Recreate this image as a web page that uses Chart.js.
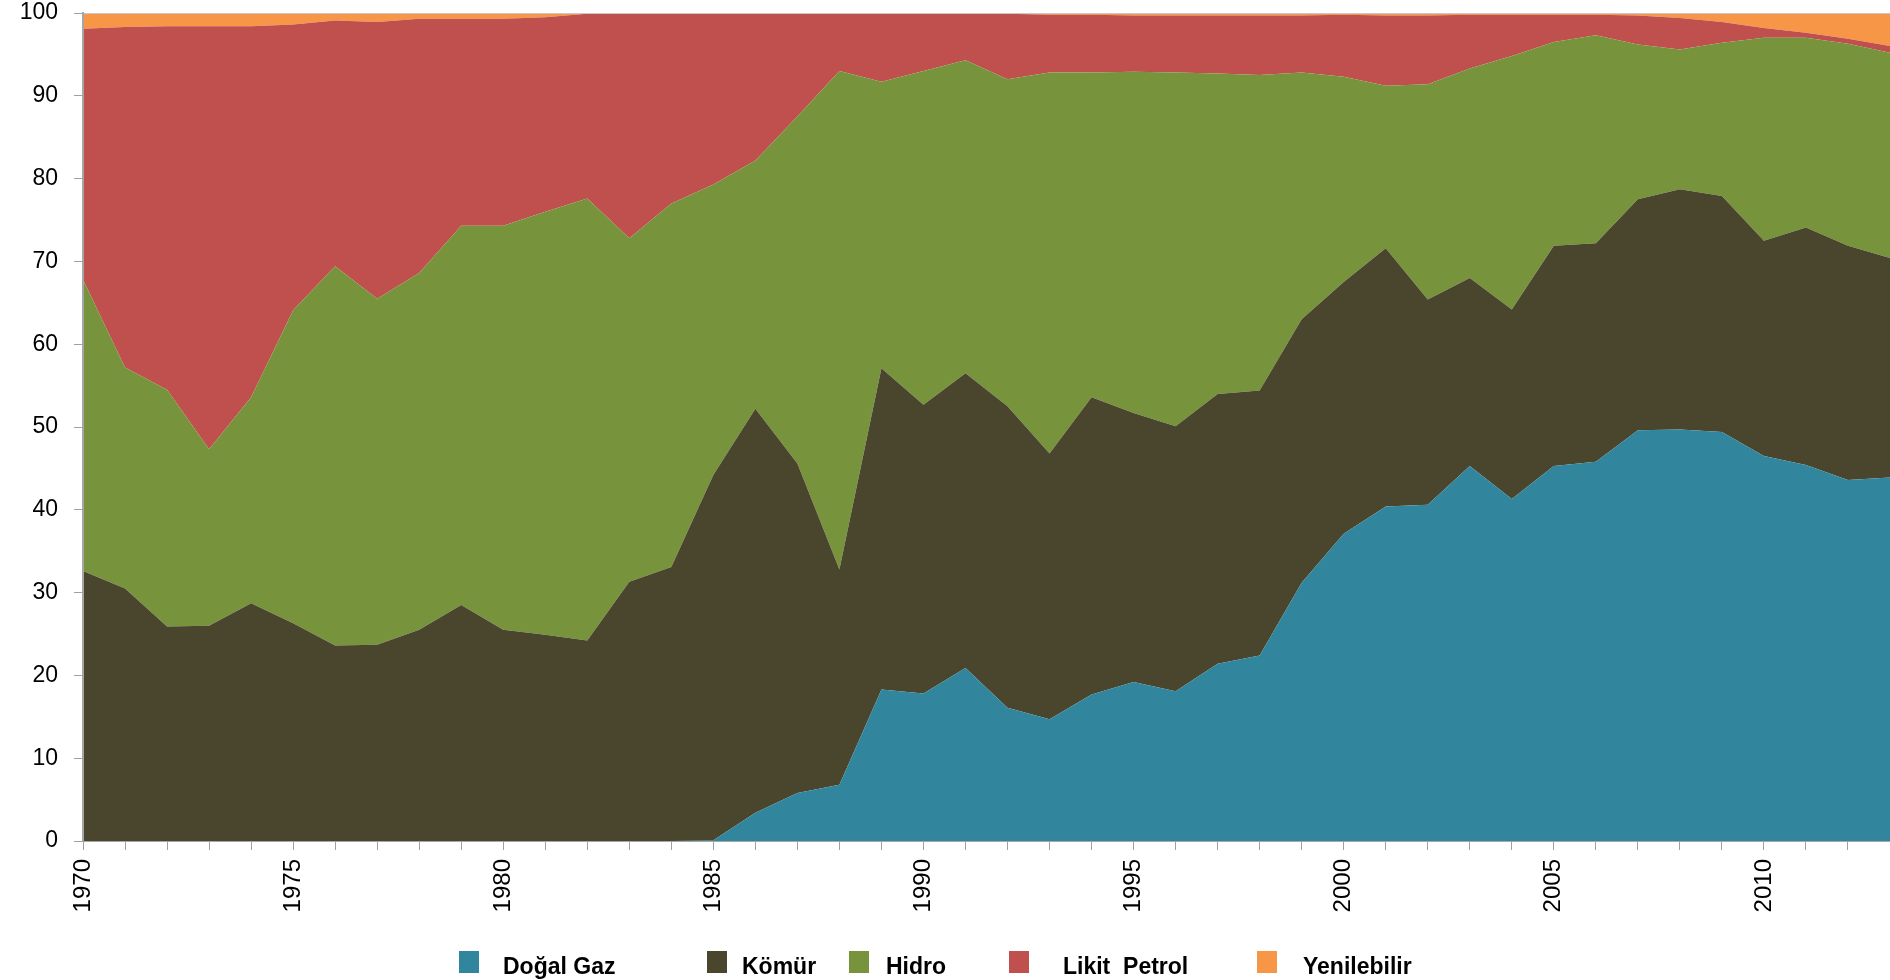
<!DOCTYPE html>
<html>
<head>
<meta charset="utf-8">
<script src="https://cdn.jsdelivr.net/npm/chart.js@4.4.0/dist/chart.umd.min.js"></script>
<style>
  html, body { margin: 0; padding: 0; background: #fff; overflow: hidden; }
  #wrap { position: relative; width: 1890px; height: 980px; overflow: hidden; }
  #myChart { display: block; }
  #legend { position: absolute; left: 0; top: 0; width: 1890px; height: 980px; pointer-events: none; }
  .sw { position: absolute; top: 951px; width: 20px; height: 22px; }
  .lb { position: absolute; top: 953px; font: bold 23px "Liberation Sans", Arial, sans-serif; color: #000; white-space: pre; }
</style>
</head>
<body>
<div id="wrap">
  <canvas id="myChart" width="1890" height="980"></canvas>
  <div id="legend"></div>
</div>
<script>
// yillar
var years = [];
for (var y = 1970; y <= 2013; y++) years.push(String(y));

// pay (%), okunan degerler
var dogalGaz = [0,0,0,0,0,0,0,0,0,0,0,0,0,0,0,
  0.1,3.4,5.8,6.8,18.3,17.8,20.9,16.1,14.7,17.7,19.2,18.1,21.4,22.4,31.2,
  37.1,40.4,40.6,45.3,41.3,45.3,45.8,49.6,49.7,49.4,46.5,45.4,43.6,43.9];
var komur = [32.6,30.5,25.9,26.0,28.7,26.3,23.6,23.7,25.5,28.5,25.5,24.9,24.2,31.3,33.1,
  44.1,48.8,39.8,26.0,38.8,34.9,35.6,36.4,32.1,35.9,32.5,32.0,32.6,32.0,31.8,
  30.4,31.2,24.8,22.7,22.9,26.6,26.4,27.9,29.0,28.5,26.0,28.7,28.3,26.5];
var hidro = [35.2,26.7,28.6,21.3,24.9,37.8,45.8,41.8,43.1,45.8,48.8,51.1,53.4,41.5,43.9,
  35.1,30.0,41.9,60.2,34.6,40.3,37.8,39.5,46.0,39.2,41.2,42.7,38.7,38.1,29.8,
  24.8,19.6,26.0,25.3,30.6,24.6,25.1,18.7,16.9,18.5,24.5,22.9,24.4,24.8];
var likitPetrol = [30.3,41.1,43.9,51.1,44.8,34.5,29.7,33.4,30.7,25.0,25.0,23.5,22.3,27.1,22.9,
  20.6,17.7,12.4,6.9,8.2,6.9,5.6,7.9,7.0,7.0,6.8,6.9,7.0,7.2,6.9,
  7.5,8.5,8.3,6.5,5.0,3.3,2.5,3.5,3.8,2.5,1.2,0.6,0.6,0.8];
var yenilebilir = [1.9,1.7,1.6,1.6,1.6,1.4,0.9,1.1,0.7,0.7,0.7,0.5,0.1,0.1,0.1,
  0.1,0.1,0.1,0.1,0.1,0.1,0.1,0.1,0.2,0.2,0.3,0.3,0.3,0.3,0.3,
  0.2,0.3,0.3,0.2,0.2,0.2,0.2,0.3,0.6,1.1,1.8,2.4,3.1,4.0];

var seriesNames = ['Doğal Gaz', 'Kömür', 'Hidro', 'Likit  Petrol', 'Yenilebilir'];
var seriesColors = ['#31859C', '#4A452D', '#77933C', '#C0504D', '#F79646'];
var allData = [dogalGaz, komur, hidro, likitPetrol, yenilebilir];

var datasets = allData.map(function (d, i) {
  return {
    label: seriesNames[i],
    data: d,
    backgroundColor: seriesColors[i],
    borderColor: seriesColors[i],
    borderWidth: 0,
    pointRadius: 0,
    tension: 0,
    fill: i === 0 ? 'origin' : '-1'
  };
});

// legend (html)
var legendPos = [[459, 503], [707, 742], [849, 886], [1009, 1063], [1257, 1303]];
var lg = document.getElementById('legend');
seriesNames.forEach(function (n, i) {
  var s = document.createElement('div');
  s.className = 'sw';
  s.style.left = legendPos[i][0] + 'px';
  s.style.background = seriesColors[i];
  lg.appendChild(s);
  var t = document.createElement('div');
  t.className = 'lb';
  t.style.left = legendPos[i][1] + 'px';
  t.textContent = n;
  lg.appendChild(t);
});

var ctx = document.getElementById('myChart').getContext('2d');
var chart = new Chart(ctx, {
  type: 'line',
  data: { labels: years, datasets: datasets },
  options: {
    responsive: false,
    animation: false,
    layout: { padding: { top: 13, right: 0, bottom: 0, left: 0 } },
    plugins: { legend: { display: false }, tooltip: { enabled: false } },
    scales: {
      x: {
        offset: false,
        grid: { drawOnChartArea: false, tickLength: 9, color: '#a0a0a0', tickColor: '#a0a0a0' },
        border: { color: '#a6a6a6', width: 2 },
        ticks: {
          autoSkip: false,
          minRotation: 90,
          maxRotation: 90,
          padding: 9,
          color: '#000',
          font: { family: '"Liberation Sans", Arial, sans-serif', size: 24 },
          callback: function (v, i) { return (1970 + i) % 5 === 0 ? this.getLabelForValue(v) : ''; }
        },
        afterFit: function (s) { s.height = 139; s.paddingLeft = 0; s.paddingRight = 0; }
      },
      y: {
        stacked: true,
        min: 0,
        max: 100,
        grid: {
          z: 1,
          tickLength: 9,
          tickColor: '#a0a0a0',
          color: function (c) { return c.tick && c.tick.value === 100 ? '#c8c8c8' : 'rgba(0,0,0,0)'; }
        },
        border: { color: '#a6a6a6', width: 2, z: 1 },
        ticks: {
          stepSize: 10,
          padding: 16,
          color: '#000',
          font: { family: '"Liberation Sans", Arial, sans-serif', size: 23 }
        },
        afterFit: function (s) { s.width = 83; s.paddingTop = 0; s.paddingBottom = 0; }
      }
    }
  }
});
</script>
</body>
</html>
